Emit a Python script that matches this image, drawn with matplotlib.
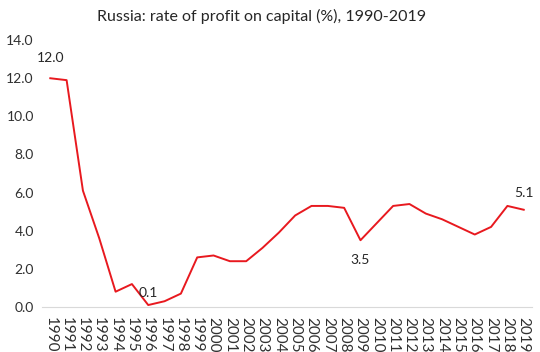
import matplotlib
matplotlib.use("Agg")
import matplotlib.pyplot as plt

years = [str(y) for y in range(1990, 2020)]
profit_rate = [12.0, 11.9, 6.1, 3.6, 0.8, 1.2, 0.1, 0.3, 0.7, 2.6,
               2.7, 2.4, 2.4, 3.1, 3.9, 4.8, 5.3, 5.3, 5.2, 3.5,
               4.4, 5.3, 5.4, 4.9, 4.6, 4.2, 3.8, 4.2, 5.3, 5.1]
labelled = {"1990": "12.0", "1996": "0.1", "2009": "3.5", "2019": "5.1"}
yticks = [0, 2, 4, 6, 8, 10, 12, 14]

plt.rcParams['font.family'] = ['Lato', 'DejaVu Sans']
fig = plt.figure(figsize=(5.4, 3.52), dpi=100)
ax = fig.add_axes([0.078, 0.128, 0.907, 0.758])
x = list(range(len(years)))
ax.plot(x, profit_rate, color='#e8191f', lw=1.4)
ax.set_xlim(-0.5, len(years) - 0.5)
ax.set_ylim(0, 14)
ax.set_yticks(yticks)
ax.set_yticklabels([f"{v:.1f}" for v in yticks], fontsize=10, color='#303030')
ax.set_xticks(x)
ax.set_xticklabels(years, rotation=270, fontsize=11, color='#303030')
ax.tick_params(axis='y', length=0, pad=6)
ax.tick_params(axis='x', length=0, pad=7)
for s in ['top', 'right', 'left']:
    ax.spines[s].set_visible(False)
ax.spines['bottom'].set_color('#d9d9d9')
ax.spines['bottom'].set_linewidth(0.8)

offsets = {"1990": (0, 10, 'bottom'), "1996": (0.2, 4, 'bottom'),
           "2009": (0, -10, 'top'), "2019": (0, 8, 'bottom')}
for i, yr in enumerate(years):
    if yr in labelled:
        dx, dy, va = offsets[yr]
        ax.annotate(labelled[yr], (i, profit_rate[i]), xytext=(dx, dy),
                    textcoords='offset points', ha='center', va=va,
                    fontsize=10, color='#262626')

fig.suptitle("Russia: rate of profit on capital (%), 1990-2019", x=0.484, y=0.975,
             fontsize=11.5, color='#262626')
fig.savefig("out.png", dpi=100, facecolor='white')
